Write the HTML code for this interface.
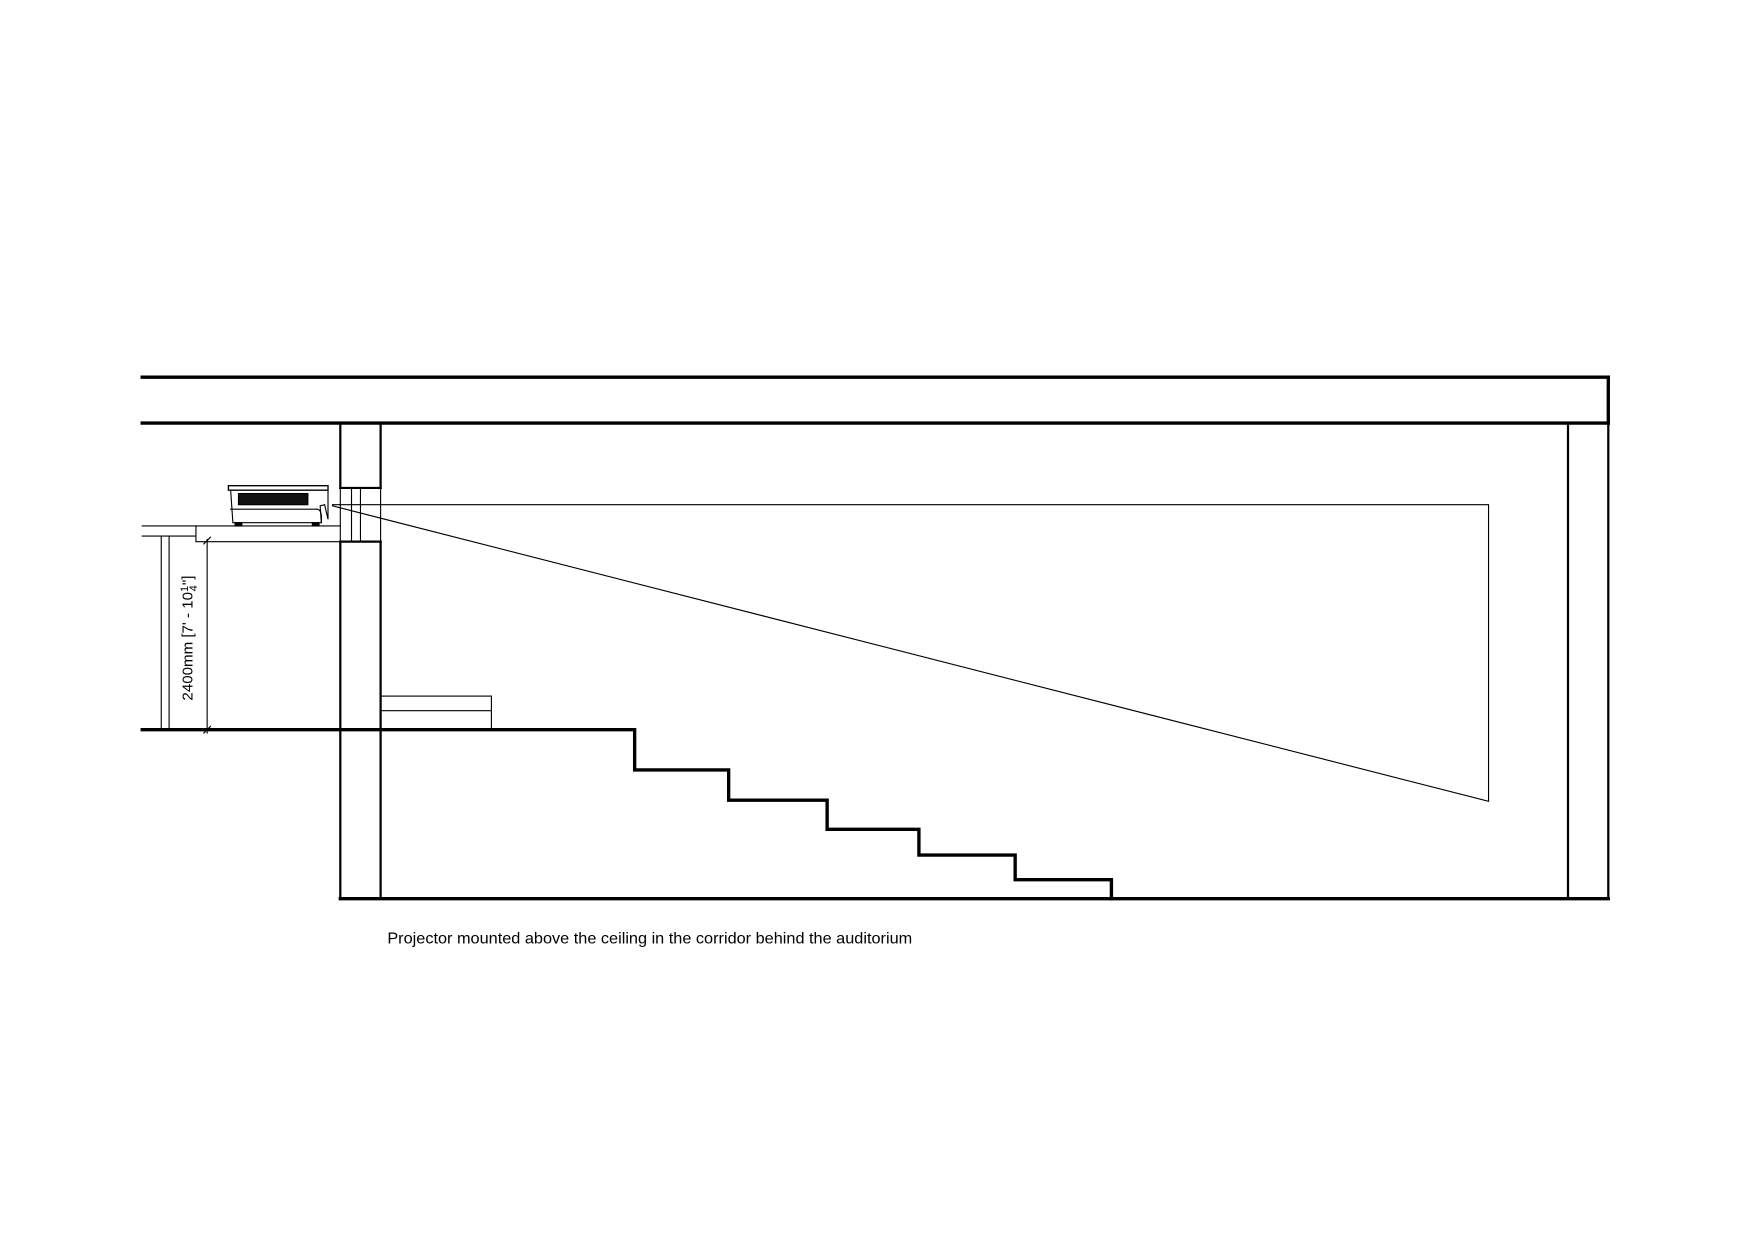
<!DOCTYPE html>
<html><head><meta charset="utf-8"><style>
html,body{margin:0;padding:0;background:#fff;width:1755px;height:1240px;overflow:hidden}
svg{display:block}
</style></head><body>
<svg width="1755" height="1240" viewBox="0 0 1568 1108" xmlns="http://www.w3.org/2000/svg">
<g fill="none" stroke="#000" stroke-linecap="square">
<g stroke-width="3">
<line x1="127" y1="337" x2="1437" y2="337"/>
<line x1="127" y1="378" x2="1437" y2="378"/>
<line x1="1437" y1="337" x2="1437" y2="378"/>
<line x1="304" y1="803" x2="1437" y2="803"/>
<polyline points="127,652 567,652 567,688 651,688 651,715 739,715 739,741 821,741 821,764 907,764 907,786 993,786 993,803"/>
</g>
<g stroke-width="2">
<line x1="1401" y1="378" x2="1401" y2="803"/>
<line x1="1437" y1="378" x2="1437" y2="803"/>
<line x1="304" y1="378" x2="304" y2="436"/>
<line x1="340" y1="378" x2="340" y2="436"/>
<line x1="304" y1="436" x2="340" y2="436"/>
<line x1="304" y1="484" x2="304" y2="803"/>
<line x1="340" y1="484" x2="340" y2="803"/>
<line x1="304" y1="484" x2="340" y2="484"/>
</g>
<g stroke-width="1">
<line x1="304" y1="436" x2="304" y2="484"/>
<line x1="340" y1="436" x2="340" y2="484"/>
<line x1="314" y1="436" x2="314" y2="484"/>
<line x1="322" y1="436" x2="322" y2="484"/>
<polyline points="304,470 175,470 175,484 304,484"/>
<line x1="127" y1="470" x2="175" y2="470"/>
<line x1="127" y1="479" x2="175" y2="479"/>
<line x1="144" y1="479" x2="144" y2="652"/>
<line x1="151" y1="479" x2="151" y2="652"/>
<line x1="185" y1="482" x2="185" y2="655"/>
<line x1="182" y1="486" x2="188" y2="480"/>
<line x1="182" y1="655" x2="188" y2="649"/>
<rect x="340" y="622" width="99" height="30"/>
<line x1="340" y1="635" x2="439" y2="635"/>
<polyline points="297,451 1330,451 1330,716 297,452"/>
<polyline points="204,434 293,434 293,438 204,438 204,434" stroke-width="1.2"/>
<path d="M206,438 L208,467 L287,467 L286,452 L290,451 L293,464 L293,438"/>
<line x1="206" y1="455" x2="283" y2="455"/>
<path d="M283,455 Q288,455 287,467"/>
</g>
<rect x="213" y="441" width="62" height="10" fill="#111"/>
<rect x="210" y="467" width="6" height="3" fill="#000"/>
<rect x="279" y="467" width="6" height="3" fill="#000"/>
</g>
<text x="0" y="0" transform="translate(172,626) rotate(-90)" font-family="Liberation Sans, sans-serif" font-size="13.5" fill="#000">2400mm [7' - 10<tspan font-size="10" dy="-4">1</tspan><tspan font-size="10" dy="8" dx="-5">4</tspan><tspan dy="-4">"]</tspan></text>
<text x="346" y="843" textLength="469" lengthAdjust="spacingAndGlyphs" font-family="Liberation Sans, sans-serif" font-size="14" fill="#000">Projector mounted above the ceiling in the corridor behind the auditorium</text>
</svg>
</body></html>
